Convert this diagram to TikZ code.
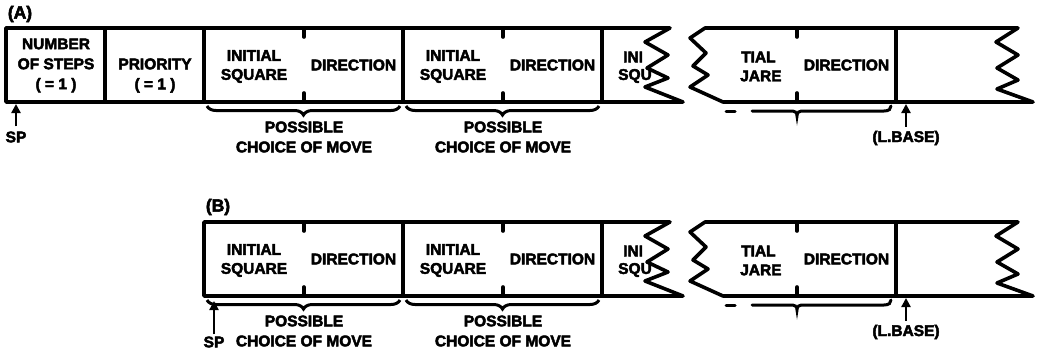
\documentclass[tikz,border=0pt]{standalone}
\usepackage{fontspec}
\setmainfont{Liberation Sans}[BoldFeatures={FakeBold=3}]
\usetikzlibrary{decorations.pathreplacing,arrows.meta}
\tikzset{
  ln/.style={line width=3.6pt, line join=round, line cap=round},
  lbl/.style={font=\bfseries\fontsize{15.5}{20}\selectfont, inner sep=0pt, align=center},
  panel/.style={font=\bfseries\fontsize{17.5}{20}\selectfont, inner sep=0pt},
  brc/.style={line width=3pt, decorate, decoration={brace, amplitude=9pt, mirror}},
  brl/.style={line width=3pt, line cap=round},
  arr/.style={line width=2.8pt, -{Triangle[length=9pt,width=9pt]}},
}
\newcommand\tapetail[1]{%
  % first part (cells from x=204 to the break)
  \draw[ln] (204,28) -- (670,28) -- (645,42) -- (668,55) -- (647,68) -- (668,78) -- (645,87) -- (683,102) -- (204,102) -- cycle;
  \draw[ln] (403,28) -- (403,102);
  \draw[ln] (602,28) -- (602,102);
  \draw[ln] (304,28) -- (304,37) (304,93) -- (304,102);
  \draw[ln] (503,28) -- (503,37) (503,93) -- (503,102);
  % second part after the break
  \draw[ln] (705,28) -- (1018,28) -- (996,42) -- (1018,55) -- (997,68) -- (1018,80) -- (997,89) -- (1033,102) -- (723,102) -- (690,87) -- (708,75) -- (693,66) -- (706,53) -- (690,38) -- cycle;
  \draw[ln] (896,28) -- (896,102);
  \draw[ln] (797,28) -- (797,37) (797,93) -- (797,102);
  % cell texts
  \node[lbl] (#1is1) at (254,66.5) {INITIAL\\[-1pt]SQUARE};
  \node[lbl] (#1dir1) at (353.5,65) {DIRECTION};
  \node[lbl] (#1is2) at (453,66.5) {INITIAL\\[-1pt]SQUARE};
  \node[lbl] (#1dir2) at (552.5,65) {DIRECTION};
  \node[lbl, anchor=west] (#1ini) at (623,57) {INI};
  \node[lbl, anchor=west] (#1squ) at (618,76) {SQU};
  \node[lbl, anchor=west] (#1tial) at (741,57) {TIAL};
  \node[lbl, anchor=west] (#1jare) at (740,76) {JARE};
  \node[lbl] (#1dir3) at (846.5,65) {DIRECTION};
  % braces
  \draw[brc] (207,106) -- (400,106);
  \draw[brc] (406,106) -- (599,106);
  \draw[brl] (726,111) -- (735,111);
  \draw[brl] (752,111) -- (790,111) .. controls (795,111) and (797,112) .. (797,116)
             .. controls (797,112) and (799,111) .. (804,111) -- (884,111)
             .. controls (889,111) and (891,109) .. (891,106);
  \node[lbl] (#1pos1) at (304,137) {POSSIBLE\\CHOICE OF MOVE};
  \node[lbl] (#1pos2) at (503,137) {POSSIBLE\\CHOICE OF MOVE};
  % L.BASE
  \node[lbl] (#1lb) at (906,138) {(L.BASE)};
  \coordinate (#1lbtip) at (906,104);
  \draw[arr] ([yshift=4pt]#1lb.north) -- (#1lbtip);
}
\begin{document}
\begin{tikzpicture}[x=1pt, y=-1pt]
  \useasboundingbox (0,0) rectangle (1043,351);
  % ---------- (A) ----------
  \node[panel] (labA) at (20,14) {(A)};
  \draw[ln] (204,28) -- (6,28) -- (6,102) -- (204,102);
  \draw[ln] (105,28) -- (105,102);
  \node[lbl] (nsteps) at (56,65.5) {NUMBER\\OF STEPS\\( = 1 )};
  \node[lbl] (prio) at (155,75.5) {PRIORITY\\( = 1 )};
  \tapetail{A}
  \node[lbl] (spA) at (16,137) {SP};
  \coordinate (spAtip) at (15,104);
  \draw[arr] ([yshift=5pt]spA.north) -- (spA.north |- spAtip);
  % ---------- (B) ----------
  \begin{scope}[yshift=-194pt]
    \node[panel] (labB) at (218,13) {(B)};
    \tapetail{B}
    \node[lbl] (spB) at (214,148) {SP};
    \coordinate (spBtip) at (214,107);
    \draw[arr] ([yshift=2pt]spB.north) -- (spB.north |- spBtip);
  \end{scope}
\end{tikzpicture}
\end{document}
